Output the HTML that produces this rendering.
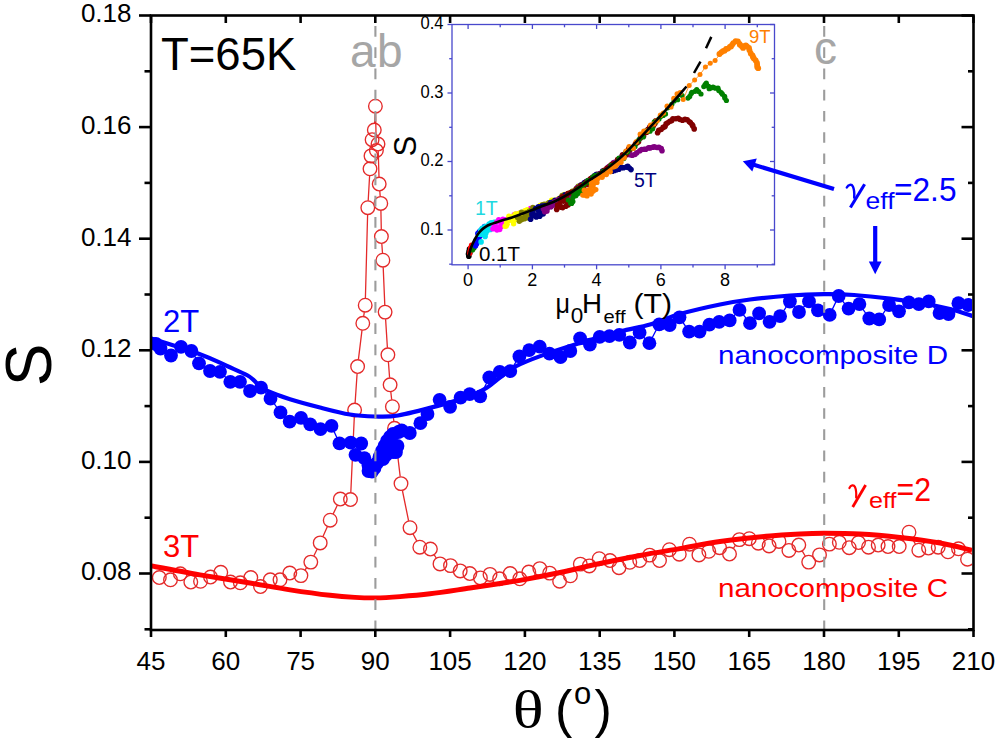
<!DOCTYPE html><html><head><meta charset="utf-8"><style>html,body{margin:0;padding:0;background:#fff;}svg{display:block;font-family:"Liberation Sans",sans-serif;}</style></head><body>
<svg width="1000" height="741" viewBox="0 0 1000 741">
<rect width="1000" height="741" fill="#fff"/>
<defs><clipPath id="plotclip"><rect x="152" y="17" width="820" height="612"/></clipPath></defs>
<g clip-path="url(#plotclip)">
<path d="M305.0,570.0L306.7,567.7M313.9,555.8L317.1,549.2M323.0,536.5L327.4,526.6M333.2,513.9L337.3,505.3M350.8,492.5L354.3,417.0M355.1,403.0L357.1,373.5M358.4,359.6L362.0,330.2M363.7,316.4L364.3,312.1M365.4,298.2L367.6,214.7M368.2,200.7L369.6,175.8M371.5,148.9L371.6,146.7M374.6,123.0L375.1,113.2M375.6,113.2L376.2,143.5M378.2,151.0L379.0,177.0M379.8,191.0L380.2,196.4M380.9,210.4L381.3,229.5M381.8,243.5L382.5,253.2M383.2,267.2L384.8,305.1M385.6,319.1L387.4,347.8M388.4,361.8L389.6,377.8M390.8,391.8L391.7,399.7M393.1,413.7L393.8,421.3M395.3,435.3L400.2,476.6M402.4,490.5L408.6,520.8M413.1,534.0L416.7,540.9M434.2,554.9L436.2,558.0M574.9,570.5L575.8,569.4M664.2,555.3L664.7,554.9M684.3,549.3L684.5,549.1M694.1,549.5L694.3,549.6M733.5,548.2L735.4,545.4M802.3,551.1L805.2,556.0M824.2,549.7L824.7,549.3M903.2,540.7L905.0,538.0M912.3,538.4L915.4,544.1" fill="none" stroke="#e42a2a" stroke-width="1.3"/>
<g fill="none" stroke="#e42a2a" stroke-width="1.35">
<circle cx="159.3" cy="577.5" r="6.8"/>
<circle cx="170.5" cy="579.8" r="6.8"/>
<circle cx="180.3" cy="573.8" r="6.8"/>
<circle cx="190.8" cy="582.0" r="6.8"/>
<circle cx="200.5" cy="581.3" r="6.8"/>
<circle cx="210.5" cy="577.0" r="6.8"/>
<circle cx="220.8" cy="572.3" r="6.8"/>
<circle cx="230.5" cy="582.0" r="6.8"/>
<circle cx="240.3" cy="582.8" r="6.8"/>
<circle cx="250.8" cy="577.5" r="6.8"/>
<circle cx="260.5" cy="586.5" r="6.8"/>
<circle cx="270.3" cy="579.8" r="6.8"/>
<circle cx="280.0" cy="579.8" r="6.8"/>
<circle cx="289.8" cy="573.0" r="6.8"/>
<circle cx="300.9" cy="575.6" r="6.8"/>
<circle cx="310.8" cy="562.1" r="6.8"/>
<circle cx="320.2" cy="542.9" r="6.8"/>
<circle cx="330.2" cy="520.2" r="6.8"/>
<circle cx="340.3" cy="499.0" r="6.8"/>
<circle cx="350.5" cy="499.5" r="6.8"/>
<circle cx="354.6" cy="410.0" r="6.8"/>
<circle cx="357.6" cy="366.5" r="6.8"/>
<circle cx="362.8" cy="323.3" r="6.8"/>
<circle cx="365.2" cy="305.2" r="6.8"/>
<circle cx="367.8" cy="207.7" r="6.8"/>
<circle cx="370.0" cy="168.8" r="6.8"/>
<circle cx="371.0" cy="155.9" r="6.8"/>
<circle cx="372.1" cy="139.7" r="6.8"/>
<circle cx="374.3" cy="130.0" r="6.8"/>
<circle cx="375.4" cy="106.2" r="6.8"/>
<circle cx="376.4" cy="150.5" r="6.8"/>
<circle cx="378.0" cy="144.0" r="6.8"/>
<circle cx="379.2" cy="184.0" r="6.8"/>
<circle cx="380.8" cy="203.4" r="6.8"/>
<circle cx="381.4" cy="236.5" r="6.8"/>
<circle cx="382.9" cy="260.2" r="6.8"/>
<circle cx="385.1" cy="312.1" r="6.8"/>
<circle cx="387.9" cy="354.8" r="6.8"/>
<circle cx="390.1" cy="384.8" r="6.8"/>
<circle cx="392.4" cy="406.7" r="6.8"/>
<circle cx="394.5" cy="428.3" r="6.8"/>
<circle cx="401.0" cy="483.6" r="6.8"/>
<circle cx="410.0" cy="527.7" r="6.8"/>
<circle cx="419.8" cy="547.2" r="6.8"/>
<circle cx="430.4" cy="549.0" r="6.8"/>
<circle cx="440.0" cy="563.9" r="6.8"/>
<circle cx="450.5" cy="565.6" r="6.8"/>
<circle cx="460.2" cy="570.9" r="6.8"/>
<circle cx="469.8" cy="573.5" r="6.8"/>
<circle cx="480.4" cy="577.9" r="6.8"/>
<circle cx="490.0" cy="574.4" r="6.8"/>
<circle cx="499.6" cy="578.8" r="6.8"/>
<circle cx="510.2" cy="573.5" r="6.8"/>
<circle cx="519.8" cy="578.8" r="6.8"/>
<circle cx="528.8" cy="572.0" r="6.8"/>
<circle cx="539.8" cy="568.6" r="6.8"/>
<circle cx="549.7" cy="573.1" r="6.8"/>
<circle cx="559.6" cy="581.2" r="6.8"/>
<circle cx="570.4" cy="575.8" r="6.8"/>
<circle cx="580.3" cy="564.1" r="6.8"/>
<circle cx="589.3" cy="565.9" r="6.8"/>
<circle cx="599.2" cy="558.7" r="6.8"/>
<circle cx="610.0" cy="560.5" r="6.8"/>
<circle cx="619.0" cy="567.7" r="6.8"/>
<circle cx="629.8" cy="562.3" r="6.8"/>
<circle cx="639.7" cy="560.5" r="6.8"/>
<circle cx="649.6" cy="555.1" r="6.8"/>
<circle cx="659.5" cy="560.5" r="6.8"/>
<circle cx="669.4" cy="549.7" r="6.8"/>
<circle cx="679.3" cy="554.2" r="6.8"/>
<circle cx="689.5" cy="544.2" r="6.8"/>
<circle cx="698.9" cy="554.9" r="6.8"/>
<circle cx="708.8" cy="551.3" r="6.8"/>
<circle cx="719.6" cy="547.7" r="6.8"/>
<circle cx="729.5" cy="554.0" r="6.8"/>
<circle cx="739.4" cy="539.6" r="6.8"/>
<circle cx="749.3" cy="538.7" r="6.8"/>
<circle cx="758.3" cy="543.2" r="6.8"/>
<circle cx="769.1" cy="545.9" r="6.8"/>
<circle cx="779.0" cy="541.4" r="6.8"/>
<circle cx="788.9" cy="550.4" r="6.8"/>
<circle cx="798.8" cy="545.0" r="6.8"/>
<circle cx="808.7" cy="562.1" r="6.8"/>
<circle cx="819.5" cy="554.9" r="6.8"/>
<circle cx="829.4" cy="544.1" r="6.8"/>
<circle cx="839.3" cy="542.3" r="6.8"/>
<circle cx="849.2" cy="547.7" r="6.8"/>
<circle cx="858.5" cy="542.5" r="6.8"/>
<circle cx="868.5" cy="547.2" r="6.8"/>
<circle cx="878.2" cy="545.0" r="6.8"/>
<circle cx="888.0" cy="546.5" r="6.8"/>
<circle cx="899.2" cy="546.5" r="6.8"/>
<circle cx="909.0" cy="532.2" r="6.8"/>
<circle cx="918.8" cy="550.2" r="6.8"/>
<circle cx="928.5" cy="548.0" r="6.8"/>
<circle cx="938.2" cy="547.2" r="6.8"/>
<circle cx="948.0" cy="551.8" r="6.8"/>
<circle cx="958.5" cy="548.8" r="6.8"/>
<circle cx="967.5" cy="559.2" r="6.8"/>
</g>
<path d="M151.5,566.0 C159.6,567.5 183.6,572.0 200.0,574.8 C216.4,577.6 235.0,580.5 250.0,583.0 C265.0,585.5 276.7,587.8 290.0,589.8 C303.3,591.8 319.2,594.0 330.0,595.3 C340.8,596.6 347.5,597.0 355.0,597.4 C362.5,597.8 367.5,598.0 375.0,597.9 C382.5,597.8 390.8,597.3 400.0,596.6 C409.2,595.9 418.3,595.2 430.0,593.8 C441.7,592.4 458.3,589.7 470.0,588.0 C481.7,586.3 491.7,584.8 500.0,583.5 C508.3,582.2 510.0,582.1 520.0,580.3 C530.0,578.5 546.7,575.3 560.0,572.5 C573.3,569.7 586.7,566.3 600.0,563.5 C613.3,560.7 626.7,558.0 640.0,555.5 C653.3,553.0 666.7,550.9 680.0,548.6 C693.3,546.3 705.0,543.6 720.0,541.5 C735.0,539.4 756.7,537.2 770.0,536.0 C783.3,534.8 791.0,534.5 800.0,534.0 C809.0,533.5 814.0,533.3 824.0,533.3 C834.0,533.3 847.3,533.3 860.0,534.0 C872.7,534.7 886.7,536.0 900.0,537.5 C913.3,539.0 928.0,540.9 940.0,543.0 C952.0,545.1 966.7,549.1 972.0,550.3" fill="none" stroke="#ff0000" stroke-width="4.9"/>
<polyline fill="none" stroke="#0000ff" stroke-width="1.3" points="156.0,344.0 160.5,348.5 171.0,355.5 181.0,346.8 191.4,351.0 199.0,363.3 210.0,371.0 220.0,371.8 230.3,381.8 240.0,381.8 250.0,391.0 261.0,387.7 270.5,398.7 280.5,412.4 289.7,421.6 301.0,417.8 310.2,424.3 320.5,429.1 331.5,425.9 339.5,443.4 350.7,442.7 361.2,443.5 355.5,454.8 364.4,458.1 368.5,465.4 368.5,471.0 372.0,471.5 374.5,468.0 377.0,463.0 379.5,457.0 382.0,451.0 384.5,446.0 387.0,441.0 390.0,437.0 393.0,434.0 396.0,452.0 397.5,446.0 386.0,455.0 391.0,447.5 393.0,452.0 383.0,459.0 389.0,443.0 398.5,432.0 401.7,430.5 409.8,433.0 420.4,423.2 427.5,414.0 439.6,399.8 450.1,406.8 460.6,397.7 469.7,394.2 480.2,396.3 489.3,377.4 499.8,371.8 510.3,371.1 519.4,356.4 529.2,350.1 539.7,346.6 549.5,353.6 560.5,357.2 570.3,351.0 580.1,338.3 589.9,344.6 599.7,336.9 609.5,336.2 619.3,334.8 629.8,342.5 639.6,332.7 649.4,343.2 659.2,324.3 669.7,325.0 679.5,317.3 689.1,331.6 699.6,331.6 709.4,324.6 719.2,321.8 729.7,320.4 739.5,309.9 750.0,323.2 759.1,313.4 769.6,321.8 780.1,316.2 789.9,301.5 799.0,312.0 809.0,301.4 818.0,310.4 829.7,314.9 838.7,296.0 848.6,308.6 859.4,304.1 869.3,318.5 879.2,319.4 889.1,305.0 899.0,311.3 908.9,302.3 918.8,304.1 928.7,301.4 939.5,313.1 948.5,314.0 958.4,303.2 968.3,305.0"/>
<g fill="#0000ff">
<circle cx="156.0" cy="344.0" r="6.9"/>
<circle cx="160.5" cy="348.5" r="6.9"/>
<circle cx="171.0" cy="355.5" r="6.9"/>
<circle cx="181.0" cy="346.8" r="6.9"/>
<circle cx="191.4" cy="351.0" r="6.9"/>
<circle cx="199.0" cy="363.3" r="6.9"/>
<circle cx="210.0" cy="371.0" r="6.9"/>
<circle cx="220.0" cy="371.8" r="6.9"/>
<circle cx="230.3" cy="381.8" r="6.9"/>
<circle cx="240.0" cy="381.8" r="6.9"/>
<circle cx="250.0" cy="391.0" r="6.9"/>
<circle cx="261.0" cy="387.7" r="6.9"/>
<circle cx="270.5" cy="398.7" r="6.9"/>
<circle cx="280.5" cy="412.4" r="6.9"/>
<circle cx="289.7" cy="421.6" r="6.9"/>
<circle cx="301.0" cy="417.8" r="6.9"/>
<circle cx="310.2" cy="424.3" r="6.9"/>
<circle cx="320.5" cy="429.1" r="6.9"/>
<circle cx="331.5" cy="425.9" r="6.9"/>
<circle cx="339.5" cy="443.4" r="6.9"/>
<circle cx="350.7" cy="442.7" r="6.9"/>
<circle cx="361.2" cy="443.5" r="6.9"/>
<circle cx="355.5" cy="454.8" r="6.9"/>
<circle cx="364.4" cy="458.1" r="6.9"/>
<circle cx="368.5" cy="465.4" r="6.9"/>
<circle cx="368.5" cy="471.0" r="6.9"/>
<circle cx="372.0" cy="471.5" r="6.9"/>
<circle cx="374.5" cy="468.0" r="6.9"/>
<circle cx="377.0" cy="463.0" r="6.9"/>
<circle cx="379.5" cy="457.0" r="6.9"/>
<circle cx="382.0" cy="451.0" r="6.9"/>
<circle cx="384.5" cy="446.0" r="6.9"/>
<circle cx="387.0" cy="441.0" r="6.9"/>
<circle cx="390.0" cy="437.0" r="6.9"/>
<circle cx="393.0" cy="434.0" r="6.9"/>
<circle cx="396.0" cy="452.0" r="6.9"/>
<circle cx="397.5" cy="446.0" r="6.9"/>
<circle cx="386.0" cy="455.0" r="6.9"/>
<circle cx="391.0" cy="447.5" r="6.9"/>
<circle cx="393.0" cy="452.0" r="6.9"/>
<circle cx="383.0" cy="459.0" r="6.9"/>
<circle cx="389.0" cy="443.0" r="6.9"/>
<circle cx="398.5" cy="432.0" r="6.9"/>
<circle cx="401.7" cy="430.5" r="6.9"/>
<circle cx="409.8" cy="433.0" r="6.9"/>
<circle cx="420.4" cy="423.2" r="6.9"/>
<circle cx="427.5" cy="414.0" r="6.9"/>
<circle cx="439.6" cy="399.8" r="6.9"/>
<circle cx="450.1" cy="406.8" r="6.9"/>
<circle cx="460.6" cy="397.7" r="6.9"/>
<circle cx="469.7" cy="394.2" r="6.9"/>
<circle cx="480.2" cy="396.3" r="6.9"/>
<circle cx="489.3" cy="377.4" r="6.9"/>
<circle cx="499.8" cy="371.8" r="6.9"/>
<circle cx="510.3" cy="371.1" r="6.9"/>
<circle cx="519.4" cy="356.4" r="6.9"/>
<circle cx="529.2" cy="350.1" r="6.9"/>
<circle cx="539.7" cy="346.6" r="6.9"/>
<circle cx="549.5" cy="353.6" r="6.9"/>
<circle cx="560.5" cy="357.2" r="6.9"/>
<circle cx="570.3" cy="351.0" r="6.9"/>
<circle cx="580.1" cy="338.3" r="6.9"/>
<circle cx="589.9" cy="344.6" r="6.9"/>
<circle cx="599.7" cy="336.9" r="6.9"/>
<circle cx="609.5" cy="336.2" r="6.9"/>
<circle cx="619.3" cy="334.8" r="6.9"/>
<circle cx="629.8" cy="342.5" r="6.9"/>
<circle cx="639.6" cy="332.7" r="6.9"/>
<circle cx="649.4" cy="343.2" r="6.9"/>
<circle cx="659.2" cy="324.3" r="6.9"/>
<circle cx="669.7" cy="325.0" r="6.9"/>
<circle cx="679.5" cy="317.3" r="6.9"/>
<circle cx="689.1" cy="331.6" r="6.9"/>
<circle cx="699.6" cy="331.6" r="6.9"/>
<circle cx="709.4" cy="324.6" r="6.9"/>
<circle cx="719.2" cy="321.8" r="6.9"/>
<circle cx="729.7" cy="320.4" r="6.9"/>
<circle cx="739.5" cy="309.9" r="6.9"/>
<circle cx="750.0" cy="323.2" r="6.9"/>
<circle cx="759.1" cy="313.4" r="6.9"/>
<circle cx="769.6" cy="321.8" r="6.9"/>
<circle cx="780.1" cy="316.2" r="6.9"/>
<circle cx="789.9" cy="301.5" r="6.9"/>
<circle cx="799.0" cy="312.0" r="6.9"/>
<circle cx="809.0" cy="301.4" r="6.9"/>
<circle cx="818.0" cy="310.4" r="6.9"/>
<circle cx="829.7" cy="314.9" r="6.9"/>
<circle cx="838.7" cy="296.0" r="6.9"/>
<circle cx="848.6" cy="308.6" r="6.9"/>
<circle cx="859.4" cy="304.1" r="6.9"/>
<circle cx="869.3" cy="318.5" r="6.9"/>
<circle cx="879.2" cy="319.4" r="6.9"/>
<circle cx="889.1" cy="305.0" r="6.9"/>
<circle cx="899.0" cy="311.3" r="6.9"/>
<circle cx="908.9" cy="302.3" r="6.9"/>
<circle cx="918.8" cy="304.1" r="6.9"/>
<circle cx="928.7" cy="301.4" r="6.9"/>
<circle cx="939.5" cy="313.1" r="6.9"/>
<circle cx="948.5" cy="314.0" r="6.9"/>
<circle cx="958.4" cy="303.2" r="6.9"/>
<circle cx="968.3" cy="305.0" r="6.9"/>
</g>
<path d="M151.5,338.5 C159.6,341.1 187.4,349.6 200.0,354.2 C212.6,358.8 219.2,362.5 227.0,366.0 C234.8,369.5 242.3,372.6 246.8,375.0 C251.3,377.4 252.1,378.7 254.0,380.3 C255.9,381.9 256.2,383.0 258.5,384.8 C260.8,386.6 262.2,388.6 267.5,391.0 C272.8,393.4 281.2,396.4 290.0,399.2 C298.8,401.9 310.0,404.9 320.0,407.5 C330.0,410.1 340.8,413.0 350.0,414.5 C359.2,416.0 367.0,416.3 375.0,416.5 C383.0,416.7 387.5,417.3 398.0,415.5 C408.5,413.7 425.8,409.1 437.8,405.9 C449.8,402.6 461.9,399.0 470.0,396.0 C478.1,393.0 481.4,391.1 486.4,388.0 C491.4,384.9 495.1,381.1 500.0,377.5 C504.9,373.9 508.7,370.0 515.6,366.4 C522.5,362.8 530.9,359.5 541.6,355.6 C552.3,351.7 566.9,347.0 580.0,343.0 C593.1,339.0 608.3,334.7 620.0,331.6 C631.7,328.5 640.0,327.4 650.0,324.5 C660.0,321.6 668.3,317.3 680.0,314.0 C691.7,310.7 708.3,306.9 720.0,304.5 C731.7,302.1 738.3,301.0 750.0,299.5 C761.7,298.0 777.7,296.4 790.0,295.5 C802.3,294.6 813.3,294.3 824.0,294.2 C834.7,294.1 843.0,294.2 854.0,295.0 C865.0,295.8 878.0,297.2 890.0,298.7 C902.0,300.2 916.0,302.3 926.0,304.0 C936.0,305.7 942.2,307.0 950.0,309.0 C957.8,311.0 969.0,314.8 972.8,316.0" fill="none" stroke="#0000ff" stroke-width="4.2"/>
</g>
<line x1="375.4" y1="15.5" x2="375.4" y2="630" stroke="#9c9c9c" stroke-width="2.1" stroke-dasharray="10.7 10.53" stroke-dashoffset="10.73"/>
<line x1="824.2" y1="15.5" x2="824.2" y2="630" stroke="#9c9c9c" stroke-width="2.1" stroke-dasharray="10.7 10.53" stroke-dashoffset="10.73"/>
<g stroke="#000" stroke-width="2.6" fill="none">
<rect x="151" y="15.5" width="822.5" height="614.5"/>
<line x1="144.5" y1="629.3" x2="151" y2="629.3"/>
<line x1="973.5" y1="629.3" x2="968.0" y2="629.3"/>
<line x1="139.0" y1="573.5" x2="151" y2="573.5"/>
<line x1="973.5" y1="573.5" x2="961.5" y2="573.5"/>
<line x1="144.5" y1="517.7" x2="151" y2="517.7"/>
<line x1="973.5" y1="517.7" x2="968.0" y2="517.7"/>
<line x1="139.0" y1="461.9" x2="151" y2="461.9"/>
<line x1="973.5" y1="461.9" x2="961.5" y2="461.9"/>
<line x1="144.5" y1="406.1" x2="151" y2="406.1"/>
<line x1="973.5" y1="406.1" x2="968.0" y2="406.1"/>
<line x1="139.0" y1="350.3" x2="151" y2="350.3"/>
<line x1="973.5" y1="350.3" x2="961.5" y2="350.3"/>
<line x1="144.5" y1="294.5" x2="151" y2="294.5"/>
<line x1="973.5" y1="294.5" x2="968.0" y2="294.5"/>
<line x1="139.0" y1="238.7" x2="151" y2="238.7"/>
<line x1="973.5" y1="238.7" x2="961.5" y2="238.7"/>
<line x1="144.5" y1="182.9" x2="151" y2="182.9"/>
<line x1="973.5" y1="182.9" x2="968.0" y2="182.9"/>
<line x1="139.0" y1="127.1" x2="151" y2="127.1"/>
<line x1="973.5" y1="127.1" x2="961.5" y2="127.1"/>
<line x1="144.5" y1="71.3" x2="151" y2="71.3"/>
<line x1="973.5" y1="71.3" x2="968.0" y2="71.3"/>
<line x1="139.0" y1="15.5" x2="151" y2="15.5"/>
<line x1="973.5" y1="15.5" x2="961.5" y2="15.5"/>
<line x1="151.0" y1="630" x2="151.0" y2="637"/>
<line x1="151.0" y1="15.5" x2="151.0" y2="23"/>
<line x1="225.8" y1="630" x2="225.8" y2="637"/>
<line x1="225.8" y1="15.5" x2="225.8" y2="23"/>
<line x1="300.6" y1="630" x2="300.6" y2="637"/>
<line x1="300.6" y1="15.5" x2="300.6" y2="23"/>
<line x1="375.3" y1="630" x2="375.3" y2="637"/>
<line x1="375.3" y1="15.5" x2="375.3" y2="23"/>
<line x1="450.1" y1="630" x2="450.1" y2="637"/>
<line x1="450.1" y1="15.5" x2="450.1" y2="23"/>
<line x1="524.9" y1="630" x2="524.9" y2="637"/>
<line x1="524.9" y1="15.5" x2="524.9" y2="23"/>
<line x1="599.7" y1="630" x2="599.7" y2="637"/>
<line x1="599.7" y1="15.5" x2="599.7" y2="23"/>
<line x1="674.4" y1="630" x2="674.4" y2="637"/>
<line x1="674.4" y1="15.5" x2="674.4" y2="23"/>
<line x1="749.2" y1="630" x2="749.2" y2="637"/>
<line x1="749.2" y1="15.5" x2="749.2" y2="23"/>
<line x1="824.0" y1="630" x2="824.0" y2="637"/>
<line x1="824.0" y1="15.5" x2="824.0" y2="23"/>
<line x1="898.8" y1="630" x2="898.8" y2="637"/>
<line x1="898.8" y1="15.5" x2="898.8" y2="23"/>
<line x1="973.5" y1="630" x2="973.5" y2="637"/>
<line x1="973.5" y1="15.5" x2="973.5" y2="23"/>
</g>
<g font-size="26" fill="#000" text-anchor="end">
<text x="131.5" y="580.4">0.08</text>
<text x="131.5" y="468.8">0.10</text>
<text x="131.5" y="357.2">0.12</text>
<text x="131.5" y="245.6">0.14</text>
<text x="131.5" y="134.0">0.16</text>
<text x="131.5" y="22.4">0.18</text>
</g>
<g font-size="26" fill="#000" text-anchor="middle">
<text x="151.0" y="670">45</text>
<text x="225.8" y="670">60</text>
<text x="300.6" y="670">75</text>
<text x="375.3" y="670">90</text>
<text x="450.1" y="670">105</text>
<text x="524.9" y="670">120</text>
<text x="599.7" y="670">135</text>
<text x="674.4" y="670">150</text>
<text x="749.2" y="670">165</text>
<text x="824.0" y="670">180</text>
<text x="898.8" y="670">195</text>
<text x="973.5" y="670">210</text>
</g>
<text x="0" y="0" font-size="64" transform="translate(51.3,364.8) rotate(-90)" text-anchor="middle" fill="#000">S</text>
<text x="0" y="0" transform="translate(512.8,727) scale(1.24,1)" font-size="52" fill="#000" font-family="Liberation Serif">θ</text>
<text x="555" y="727" font-size="52" fill="#000">(</text>
<text x="574" y="704.4" font-size="31" fill="#000">o</text>
<text x="594.5" y="727" font-size="52" fill="#000">)</text>
<text x="161" y="70" font-size="45.5" fill="#000">T=65K</text>
<text x="350" y="66.5" font-size="46" fill="#a6a6a6" letter-spacing="1.5">ab</text>
<text x="814" y="63.5" font-size="46" fill="#a6a6a6">c</text>
<text x="163" y="332" font-size="31" fill="#0000ff">2T</text>
<text x="163" y="557" font-size="31" fill="#ff0000">3T</text>
<text x="718" y="364" font-size="26.5" fill="#0000ff" textLength="230" lengthAdjust="spacingAndGlyphs">nanocomposite D</text>
<text x="718" y="596.5" font-size="26.5" fill="#ff0000" textLength="230" lengthAdjust="spacingAndGlyphs">nanocomposite C</text>
<g transform="translate(846.0,182.5) scale(1.000,1.000)" fill="none" stroke="#0000ff"><path d="M0.8,5 C2.3,2 5.5,1.2 6.9,4 C8.1,6.5 8.5,10.5 8.2,15.2" stroke-width="2.4" stroke-linecap="round"/><path d="M18.6,1.8 L4.4,25" stroke-width="3.1"/></g>
<text x="865.5" y="208.5" font-size="24.0" fill="#0000ff" textLength="29.0" lengthAdjust="spacingAndGlyphs">eff</text>
<text x="894.0" y="200.8" font-size="32.5" fill="#0000ff" textLength="62.5" lengthAdjust="spacingAndGlyphs">=2.5</text>
<g transform="translate(848.7,483.2) scale(0.910,0.950)" fill="none" stroke="#ff0000"><path d="M0.8,5 C2.3,2 5.5,1.2 6.9,4 C8.1,6.5 8.5,10.5 8.2,15.2" stroke-width="2.4" stroke-linecap="round"/><path d="M18.6,1.8 L4.4,25" stroke-width="3.1"/></g>
<text x="869.0" y="507.5" font-size="22.0" fill="#ff0000" textLength="27.5" lengthAdjust="spacingAndGlyphs">eff</text>
<text x="896.5" y="500.7" font-size="32.5" fill="#ff0000" textLength="34.5" lengthAdjust="spacingAndGlyphs">=2</text>
<rect x="452" y="24.5" width="322.5" height="240.3" fill="#fff" stroke="#4848cc" stroke-width="1.3"/>
<g stroke="#4848cc" stroke-width="1.3">
<line x1="468.1" y1="264.8" x2="468.1" y2="269.3"/>
<line x1="468.1" y1="24.5" x2="468.1" y2="29.0"/>
<line x1="500.2" y1="264.8" x2="500.2" y2="267.6"/>
<line x1="500.2" y1="24.5" x2="500.2" y2="27.3"/>
<line x1="532.4" y1="264.8" x2="532.4" y2="269.3"/>
<line x1="532.4" y1="24.5" x2="532.4" y2="29.0"/>
<line x1="564.5" y1="264.8" x2="564.5" y2="267.6"/>
<line x1="564.5" y1="24.5" x2="564.5" y2="27.3"/>
<line x1="596.6" y1="264.8" x2="596.6" y2="269.3"/>
<line x1="596.6" y1="24.5" x2="596.6" y2="29.0"/>
<line x1="628.8" y1="264.8" x2="628.8" y2="267.6"/>
<line x1="628.8" y1="24.5" x2="628.8" y2="27.3"/>
<line x1="660.9" y1="264.8" x2="660.9" y2="269.3"/>
<line x1="660.9" y1="24.5" x2="660.9" y2="29.0"/>
<line x1="693.0" y1="264.8" x2="693.0" y2="267.6"/>
<line x1="693.0" y1="24.5" x2="693.0" y2="27.3"/>
<line x1="725.1" y1="264.8" x2="725.1" y2="269.3"/>
<line x1="725.1" y1="24.5" x2="725.1" y2="29.0"/>
<line x1="757.3" y1="264.8" x2="757.3" y2="267.6"/>
<line x1="757.3" y1="24.5" x2="757.3" y2="27.3"/>
<line x1="449.2" y1="264.2" x2="452" y2="264.2"/>
<line x1="774.5" y1="264.2" x2="771.7" y2="264.2"/>
<line x1="447.5" y1="230.0" x2="452" y2="230.0"/>
<line x1="774.5" y1="230.0" x2="770.0" y2="230.0"/>
<line x1="449.2" y1="195.8" x2="452" y2="195.8"/>
<line x1="774.5" y1="195.8" x2="771.7" y2="195.8"/>
<line x1="447.5" y1="161.5" x2="452" y2="161.5"/>
<line x1="774.5" y1="161.5" x2="770.0" y2="161.5"/>
<line x1="449.2" y1="127.3" x2="452" y2="127.3"/>
<line x1="774.5" y1="127.3" x2="771.7" y2="127.3"/>
<line x1="447.5" y1="93.0" x2="452" y2="93.0"/>
<line x1="774.5" y1="93.0" x2="770.0" y2="93.0"/>
<line x1="449.2" y1="58.7" x2="452" y2="58.7"/>
<line x1="774.5" y1="58.7" x2="771.7" y2="58.7"/>
<line x1="447.5" y1="24.5" x2="452" y2="24.5"/>
<line x1="774.5" y1="24.5" x2="770.0" y2="24.5"/>
</g>
<g font-size="18" fill="#000" text-anchor="end">
<text x="443.5" y="234.6" textLength="23" lengthAdjust="spacingAndGlyphs">0.1</text>
<text x="443.5" y="166.1" textLength="23" lengthAdjust="spacingAndGlyphs">0.2</text>
<text x="443.5" y="97.6" textLength="23" lengthAdjust="spacingAndGlyphs">0.3</text>
<text x="443.5" y="29.1" textLength="23" lengthAdjust="spacingAndGlyphs">0.4</text>
</g>
<g font-size="18" fill="#000" text-anchor="middle">
<text x="467.9" y="285.6">0</text>
<text x="532.2" y="285.6">2</text>
<text x="596.4" y="285.6">4</text>
<text x="660.7" y="285.6">6</text>
<text x="724.9" y="285.6">8</text>
</g>
<text x="0" y="0" font-size="31" transform="translate(415.5,146.2) rotate(-90)" text-anchor="middle" fill="#000">S</text>
<text x="555.5" y="313" font-size="27" fill="#000" textLength="14.5" lengthAdjust="spacingAndGlyphs">μ</text>
<text x="570.8" y="323.4" font-size="22.5" fill="#000">0</text>
<text x="582" y="313" font-size="27" fill="#000" textLength="20" lengthAdjust="spacingAndGlyphs">H</text>
<text x="603.5" y="323.4" font-size="18.5" fill="#000" textLength="22" lengthAdjust="spacingAndGlyphs">eff</text>
<text x="633.5" y="313" font-size="27" fill="#000" textLength="38.5" lengthAdjust="spacingAndGlyphs">(T)</text>
<g fill="#000000"><circle cx="468.5" cy="254.0" r="2.8"/><circle cx="469.0" cy="251.5" r="2.8"/><circle cx="469.5" cy="249.0" r="2.8"/><circle cx="468.8" cy="256.2" r="2.8"/><circle cx="469.8" cy="253.0" r="2.8"/></g>
<g fill="#ff0000"><circle cx="470.0" cy="251.0" r="2.6"/><circle cx="470.5" cy="247.5" r="2.6"/><circle cx="471.5" cy="245.0" r="2.6"/><circle cx="469.8" cy="253.5" r="2.6"/><circle cx="471.0" cy="249.0" r="2.6"/></g>
<g fill="#008000"><circle cx="472.5" cy="250.0" r="2.6"/><circle cx="473.5" cy="246.0" r="2.6"/><circle cx="475.0" cy="243.0" r="2.6"/><circle cx="476.0" cy="240.0" r="2.6"/><circle cx="474.0" cy="248.0" r="2.6"/></g>
<g fill="#0000ff"><circle cx="475.5" cy="246.0" r="2.7"/><circle cx="477.0" cy="242.5" r="2.7"/><circle cx="478.5" cy="239.0" r="2.7"/><circle cx="480.0" cy="236.0" r="2.7"/><circle cx="481.5" cy="233.0" r="2.7"/><circle cx="483.5" cy="231.0" r="2.7"/><circle cx="476.5" cy="244.0" r="2.7"/><circle cx="479.0" cy="240.0" r="2.7"/><circle cx="477.8" cy="233.4" r="2.7"/><circle cx="479.3" cy="231.8" r="2.7"/><circle cx="480.5" cy="230.9" r="2.7"/><circle cx="481.4" cy="229.8" r="2.7"/><circle cx="482.9" cy="228.4" r="2.7"/><circle cx="484.5" cy="226.4" r="2.7"/><circle cx="486.4" cy="226.9" r="2.7"/></g>
<g fill="#00e0f0"><circle cx="479.4" cy="234.2" r="2.8"/><circle cx="481.1" cy="241.9" r="2.8"/><circle cx="481.9" cy="234.3" r="2.8"/><circle cx="483.5" cy="229.4" r="2.8"/><circle cx="484.2" cy="231.6" r="2.8"/><circle cx="484.0" cy="228.8" r="2.8"/><circle cx="485.1" cy="236.4" r="2.8"/><circle cx="485.9" cy="233.1" r="2.8"/><circle cx="487.5" cy="230.2" r="2.8"/><circle cx="488.3" cy="226.0" r="2.8"/><circle cx="488.4" cy="227.2" r="2.8"/><circle cx="490.3" cy="229.4" r="2.8"/><circle cx="480.8" cy="230.3" r="2.8"/><circle cx="482.3" cy="228.4" r="2.8"/><circle cx="484.2" cy="228.1" r="2.8"/><circle cx="485.2" cy="226.5" r="2.8"/><circle cx="487.2" cy="226.3" r="2.8"/><circle cx="489.2" cy="224.0" r="2.8"/><circle cx="491.2" cy="222.8" r="2.8"/><circle cx="492.6" cy="223.7" r="2.8"/><circle cx="494.2" cy="222.4" r="2.8"/><circle cx="496.0" cy="222.2" r="2.8"/></g>
<g fill="#ff00ff"><circle cx="492.9" cy="228.9" r="2.7"/><circle cx="494.1" cy="226.7" r="2.7"/><circle cx="494.8" cy="228.3" r="2.7"/><circle cx="495.6" cy="227.0" r="2.7"/><circle cx="497.0" cy="230.1" r="2.7"/><circle cx="497.5" cy="227.8" r="2.7"/><circle cx="497.8" cy="227.7" r="2.7"/><circle cx="499.7" cy="229.5" r="2.7"/><circle cx="501.0" cy="224.2" r="2.7"/><circle cx="501.3" cy="226.5" r="2.7"/><circle cx="501.7" cy="224.8" r="2.7"/><circle cx="503.0" cy="222.0" r="2.7"/><circle cx="496.6" cy="222.1" r="2.7"/><circle cx="498.7" cy="219.8" r="2.7"/><circle cx="501.1" cy="221.1" r="2.7"/><circle cx="502.9" cy="219.1" r="2.7"/><circle cx="505.4" cy="219.8" r="2.7"/><circle cx="507.8" cy="219.1" r="2.7"/><circle cx="509.4" cy="217.1" r="2.7"/><circle cx="511.5" cy="217.9" r="2.7"/><circle cx="514.2" cy="214.8" r="2.7"/><circle cx="515.5" cy="214.3" r="2.7"/><circle cx="517.7" cy="214.4" r="2.7"/><circle cx="520.1" cy="212.9" r="2.7"/><circle cx="521.6" cy="212.7" r="2.7"/><circle cx="524.0" cy="212.4" r="2.7"/><circle cx="526.6" cy="212.1" r="2.7"/><circle cx="528.3" cy="211.1" r="2.7"/><circle cx="530.5" cy="208.5" r="2.7"/></g>
<g fill="#ffff00"><circle cx="505.1" cy="226.3" r="2.7"/><circle cx="506.2" cy="226.1" r="2.7"/><circle cx="506.5" cy="222.9" r="2.7"/><circle cx="507.1" cy="224.3" r="2.7"/><circle cx="508.2" cy="220.0" r="2.7"/><circle cx="509.5" cy="220.3" r="2.7"/><circle cx="510.8" cy="219.2" r="2.7"/><circle cx="511.3" cy="219.6" r="2.7"/><circle cx="512.6" cy="220.7" r="2.7"/><circle cx="513.6" cy="223.8" r="2.7"/><circle cx="515.6" cy="218.4" r="2.7"/><circle cx="516.1" cy="219.4" r="2.7"/><circle cx="508.9" cy="216.3" r="2.7"/><circle cx="511.6" cy="218.4" r="2.7"/><circle cx="513.6" cy="216.0" r="2.7"/><circle cx="515.4" cy="213.9" r="2.7"/><circle cx="518.0" cy="213.6" r="2.7"/><circle cx="520.7" cy="212.5" r="2.7"/><circle cx="522.1" cy="214.2" r="2.7"/><circle cx="524.9" cy="210.8" r="2.7"/><circle cx="527.2" cy="209.6" r="2.7"/><circle cx="529.4" cy="211.8" r="2.7"/><circle cx="532.0" cy="210.0" r="2.7"/><circle cx="533.6" cy="208.1" r="2.7"/><circle cx="535.8" cy="208.6" r="2.7"/><circle cx="538.4" cy="207.7" r="2.7"/><circle cx="540.4" cy="205.1" r="2.7"/><circle cx="543.1" cy="206.7" r="2.7"/><circle cx="545.4" cy="205.2" r="2.7"/><circle cx="547.6" cy="204.1" r="2.7"/><circle cx="549.3" cy="202.6" r="2.7"/><circle cx="551.6" cy="200.1" r="2.7"/><circle cx="553.6" cy="200.1" r="2.7"/><circle cx="556.0" cy="200.5" r="2.7"/><circle cx="558.8" cy="198.5" r="2.7"/><circle cx="560.9" cy="199.1" r="2.7"/><circle cx="563.0" cy="196.0" r="2.7"/><circle cx="564.4" cy="194.4" r="2.7"/></g>
<g fill="#808000"><circle cx="517.5" cy="217.4" r="2.7"/><circle cx="519.3" cy="221.2" r="2.7"/><circle cx="520.7" cy="218.3" r="2.7"/><circle cx="521.5" cy="219.8" r="2.7"/><circle cx="521.7" cy="218.6" r="2.7"/><circle cx="524.1" cy="218.9" r="2.7"/><circle cx="524.9" cy="216.7" r="2.7"/><circle cx="525.1" cy="218.1" r="2.7"/><circle cx="526.5" cy="217.8" r="2.7"/><circle cx="528.6" cy="215.0" r="2.7"/><circle cx="528.8" cy="217.9" r="2.7"/><circle cx="530.4" cy="212.8" r="2.7"/><circle cx="521.6" cy="212.2" r="2.7"/><circle cx="524.7" cy="213.4" r="2.7"/><circle cx="526.2" cy="212.7" r="2.7"/><circle cx="529.2" cy="211.3" r="2.7"/><circle cx="530.9" cy="210.1" r="2.7"/><circle cx="532.9" cy="207.5" r="2.7"/><circle cx="536.0" cy="208.7" r="2.7"/><circle cx="537.8" cy="208.8" r="2.7"/><circle cx="539.9" cy="207.7" r="2.7"/><circle cx="542.5" cy="204.7" r="2.7"/><circle cx="544.2" cy="204.1" r="2.7"/><circle cx="546.4" cy="204.2" r="2.7"/><circle cx="548.7" cy="202.8" r="2.7"/><circle cx="550.8" cy="203.5" r="2.7"/><circle cx="553.3" cy="201.2" r="2.7"/><circle cx="555.7" cy="201.7" r="2.7"/><circle cx="557.8" cy="200.6" r="2.7"/><circle cx="560.0" cy="198.3" r="2.7"/><circle cx="562.1" cy="195.5" r="2.7"/><circle cx="564.1" cy="194.9" r="2.7"/><circle cx="565.8" cy="195.7" r="2.7"/><circle cx="568.1" cy="193.5" r="2.7"/><circle cx="570.7" cy="192.5" r="2.7"/><circle cx="572.3" cy="191.1" r="2.7"/><circle cx="574.5" cy="190.6" r="2.7"/><circle cx="576.1" cy="188.6" r="2.7"/><circle cx="578.2" cy="186.3" r="2.7"/><circle cx="580.7" cy="185.7" r="2.7"/><circle cx="582.5" cy="185.2" r="2.7"/><circle cx="584.9" cy="182.9" r="2.7"/><circle cx="586.6" cy="181.7" r="2.7"/><circle cx="588.5" cy="181.0" r="2.7"/><circle cx="590.4" cy="179.1" r="2.7"/><circle cx="592.4" cy="179.1" r="2.7"/><circle cx="594.7" cy="177.6" r="2.7"/><circle cx="596.9" cy="174.3" r="2.7"/></g>
<g fill="#000080"><circle cx="530.6" cy="219.3" r="2.8"/><circle cx="532.1" cy="213.2" r="2.8"/><circle cx="532.0" cy="215.0" r="2.8"/><circle cx="533.0" cy="213.1" r="2.8"/><circle cx="534.1" cy="215.7" r="2.8"/><circle cx="536.3" cy="216.9" r="2.8"/><circle cx="536.4" cy="215.2" r="2.8"/><circle cx="538.3" cy="210.8" r="2.8"/><circle cx="539.7" cy="216.2" r="2.8"/><circle cx="539.7" cy="215.6" r="2.8"/><circle cx="541.1" cy="212.0" r="2.8"/><circle cx="543.1" cy="214.0" r="2.8"/><circle cx="542.9" cy="210.7" r="2.8"/><circle cx="544.5" cy="209.7" r="2.8"/><circle cx="535.7" cy="208.5" r="2.8"/><circle cx="538.4" cy="206.7" r="2.8"/><circle cx="540.3" cy="207.2" r="2.8"/><circle cx="542.0" cy="206.0" r="2.8"/><circle cx="544.7" cy="205.8" r="2.8"/><circle cx="546.3" cy="206.4" r="2.8"/><circle cx="549.2" cy="205.6" r="2.8"/><circle cx="550.6" cy="202.5" r="2.8"/><circle cx="552.7" cy="203.3" r="2.8"/><circle cx="555.1" cy="200.4" r="2.8"/><circle cx="557.4" cy="201.8" r="2.8"/><circle cx="559.8" cy="198.6" r="2.8"/><circle cx="561.1" cy="199.7" r="2.8"/><circle cx="563.6" cy="197.9" r="2.8"/><circle cx="565.1" cy="194.7" r="2.8"/><circle cx="567.7" cy="194.8" r="2.8"/><circle cx="569.2" cy="195.3" r="2.8"/><circle cx="571.7" cy="193.6" r="2.8"/><circle cx="573.1" cy="192.5" r="2.8"/><circle cx="575.0" cy="191.2" r="2.8"/><circle cx="577.3" cy="188.3" r="2.8"/><circle cx="579.3" cy="188.9" r="2.8"/><circle cx="580.9" cy="185.1" r="2.8"/><circle cx="583.1" cy="184.1" r="2.8"/><circle cx="584.6" cy="182.6" r="2.8"/><circle cx="586.4" cy="181.5" r="2.8"/><circle cx="588.6" cy="180.5" r="2.8"/><circle cx="591.0" cy="179.2" r="2.8"/><circle cx="592.6" cy="177.6" r="2.8"/><circle cx="594.4" cy="175.8" r="2.8"/><circle cx="596.2" cy="174.6" r="2.8"/><circle cx="598.6" cy="175.0" r="2.8"/><circle cx="600.0" cy="173.5" r="2.8"/><circle cx="602.7" cy="171.1" r="2.8"/><circle cx="604.5" cy="170.8" r="2.8"/><circle cx="606.0" cy="170.7" r="2.8"/><circle cx="607.7" cy="168.2" r="2.8"/><circle cx="609.8" cy="168.3" r="2.8"/><circle cx="611.3" cy="166.4" r="2.8"/><circle cx="612.2" cy="171.2" r="2.8"/><circle cx="614.4" cy="170.4" r="2.8"/><circle cx="616.5" cy="169.8" r="2.8"/><circle cx="618.9" cy="169.3" r="2.8"/><circle cx="621.6" cy="167.4" r="2.8"/><circle cx="623.4" cy="167.8" r="2.8"/><circle cx="626.4" cy="167.1" r="2.8"/><circle cx="627.7" cy="166.2" r="2.8"/><circle cx="629.3" cy="168.0" r="2.8"/><circle cx="631.0" cy="169.6" r="2.8"/></g>
<g fill="#800080"><circle cx="543.5" cy="209.0" r="2.8"/><circle cx="544.7" cy="211.7" r="2.8"/><circle cx="546.9" cy="208.8" r="2.8"/><circle cx="546.9" cy="210.9" r="2.8"/><circle cx="548.1" cy="206.8" r="2.8"/><circle cx="548.7" cy="206.5" r="2.8"/><circle cx="550.5" cy="206.8" r="2.8"/><circle cx="551.2" cy="206.4" r="2.8"/><circle cx="551.9" cy="204.5" r="2.8"/><circle cx="553.2" cy="204.9" r="2.8"/><circle cx="554.2" cy="202.2" r="2.8"/><circle cx="555.7" cy="203.1" r="2.8"/><circle cx="549.1" cy="204.6" r="2.8"/><circle cx="551.4" cy="204.2" r="2.8"/><circle cx="553.5" cy="204.1" r="2.8"/><circle cx="555.3" cy="201.5" r="2.8"/><circle cx="558.1" cy="199.8" r="2.8"/><circle cx="559.8" cy="200.3" r="2.8"/><circle cx="561.2" cy="199.8" r="2.8"/><circle cx="564.0" cy="198.1" r="2.8"/><circle cx="565.9" cy="197.6" r="2.8"/><circle cx="567.3" cy="195.5" r="2.8"/><circle cx="569.7" cy="195.4" r="2.8"/><circle cx="572.0" cy="194.1" r="2.8"/><circle cx="573.7" cy="193.1" r="2.8"/><circle cx="575.7" cy="191.1" r="2.8"/><circle cx="577.2" cy="187.7" r="2.8"/><circle cx="579.0" cy="187.5" r="2.8"/><circle cx="580.8" cy="187.8" r="2.8"/><circle cx="583.2" cy="185.8" r="2.8"/><circle cx="585.2" cy="184.7" r="2.8"/><circle cx="587.0" cy="181.3" r="2.8"/><circle cx="589.2" cy="182.4" r="2.8"/><circle cx="590.8" cy="180.4" r="2.8"/><circle cx="592.9" cy="177.7" r="2.8"/><circle cx="594.9" cy="177.0" r="2.8"/><circle cx="596.2" cy="175.8" r="2.8"/><circle cx="598.7" cy="174.3" r="2.8"/><circle cx="600.7" cy="175.5" r="2.8"/><circle cx="602.4" cy="172.4" r="2.8"/><circle cx="604.3" cy="172.0" r="2.8"/><circle cx="606.4" cy="170.4" r="2.8"/><circle cx="608.1" cy="167.2" r="2.8"/><circle cx="609.4" cy="166.4" r="2.8"/><circle cx="611.8" cy="165.1" r="2.8"/><circle cx="613.4" cy="162.8" r="2.8"/><circle cx="614.7" cy="162.2" r="2.8"/><circle cx="617.1" cy="162.1" r="2.8"/><circle cx="618.9" cy="159.4" r="2.8"/><circle cx="620.6" cy="158.4" r="2.8"/><circle cx="622.2" cy="155.7" r="2.8"/><circle cx="624.2" cy="154.3" r="2.8"/><circle cx="625.9" cy="155.1" r="2.8"/><circle cx="626.6" cy="151.9" r="2.8"/><circle cx="629.1" cy="151.9" r="2.8"/><circle cx="629.9" cy="154.7" r="2.8"/><circle cx="632.3" cy="155.2" r="2.8"/><circle cx="634.9" cy="154.5" r="2.8"/><circle cx="636.8" cy="152.8" r="2.8"/><circle cx="639.8" cy="150.7" r="2.8"/><circle cx="641.7" cy="149.5" r="2.8"/><circle cx="644.2" cy="149.3" r="2.8"/><circle cx="645.8" cy="149.2" r="2.8"/><circle cx="648.6" cy="147.7" r="2.8"/><circle cx="650.0" cy="147.9" r="2.8"/><circle cx="652.6" cy="147.3" r="2.8"/><circle cx="654.3" cy="146.9" r="2.8"/><circle cx="656.9" cy="147.5" r="2.8"/><circle cx="658.9" cy="147.4" r="2.8"/><circle cx="661.2" cy="148.5" r="2.8"/><circle cx="662.0" cy="150.8" r="2.8"/></g>
<g fill="#800000"><circle cx="556.7" cy="209.4" r="2.8"/><circle cx="557.6" cy="205.1" r="2.8"/><circle cx="557.8" cy="205.5" r="2.8"/><circle cx="559.8" cy="206.7" r="2.8"/><circle cx="559.8" cy="204.7" r="2.8"/><circle cx="560.6" cy="200.7" r="2.8"/><circle cx="561.4" cy="207.3" r="2.8"/><circle cx="562.7" cy="207.6" r="2.8"/><circle cx="563.6" cy="201.1" r="2.8"/><circle cx="565.0" cy="199.9" r="2.8"/><circle cx="565.8" cy="206.2" r="2.8"/><circle cx="567.6" cy="204.4" r="2.8"/><circle cx="568.2" cy="204.7" r="2.8"/><circle cx="569.7" cy="200.9" r="2.8"/><circle cx="562.2" cy="196.9" r="2.8"/><circle cx="564.3" cy="197.3" r="2.8"/><circle cx="566.3" cy="196.9" r="2.8"/><circle cx="567.9" cy="193.6" r="2.8"/><circle cx="570.5" cy="192.8" r="2.8"/><circle cx="572.0" cy="192.3" r="2.8"/><circle cx="573.7" cy="192.4" r="2.8"/><circle cx="576.3" cy="189.4" r="2.8"/><circle cx="577.9" cy="188.3" r="2.8"/><circle cx="579.7" cy="187.4" r="2.8"/><circle cx="581.2" cy="185.3" r="2.8"/><circle cx="583.2" cy="186.7" r="2.8"/><circle cx="585.4" cy="182.9" r="2.8"/><circle cx="587.7" cy="184.4" r="2.8"/><circle cx="589.2" cy="180.1" r="2.8"/><circle cx="590.8" cy="178.6" r="2.8"/><circle cx="592.9" cy="177.4" r="2.8"/><circle cx="594.7" cy="176.7" r="2.8"/><circle cx="597.0" cy="177.7" r="2.8"/><circle cx="599.1" cy="174.8" r="2.8"/><circle cx="600.7" cy="173.9" r="2.8"/><circle cx="602.6" cy="172.0" r="2.8"/><circle cx="604.2" cy="170.4" r="2.8"/><circle cx="606.9" cy="168.4" r="2.8"/><circle cx="608.2" cy="168.8" r="2.8"/><circle cx="610.4" cy="165.9" r="2.8"/><circle cx="611.6" cy="164.6" r="2.8"/><circle cx="613.6" cy="163.9" r="2.8"/><circle cx="615.9" cy="163.9" r="2.8"/><circle cx="617.6" cy="159.5" r="2.8"/><circle cx="618.6" cy="160.6" r="2.8"/><circle cx="621.3" cy="158.1" r="2.8"/><circle cx="622.6" cy="154.8" r="2.8"/><circle cx="624.0" cy="156.5" r="2.8"/><circle cx="626.1" cy="154.6" r="2.8"/><circle cx="627.9" cy="150.8" r="2.8"/><circle cx="628.7" cy="148.9" r="2.8"/><circle cx="630.7" cy="149.1" r="2.8"/><circle cx="632.8" cy="147.7" r="2.8"/><circle cx="634.1" cy="146.2" r="2.8"/><circle cx="635.5" cy="143.8" r="2.8"/><circle cx="636.7" cy="142.9" r="2.8"/><circle cx="638.5" cy="141.8" r="2.8"/><circle cx="640.5" cy="137.9" r="2.8"/><circle cx="641.5" cy="136.0" r="2.8"/><circle cx="643.6" cy="136.0" r="2.8"/><circle cx="644.7" cy="132.0" r="2.8"/><circle cx="646.7" cy="132.2" r="2.8"/><circle cx="648.1" cy="129.3" r="2.8"/><circle cx="649.9" cy="126.8" r="2.8"/><circle cx="651.2" cy="126.7" r="2.8"/><circle cx="653.4" cy="125.7" r="2.8"/><circle cx="654.9" cy="123.4" r="2.8"/><circle cx="655.8" cy="120.8" r="2.8"/><circle cx="657.6" cy="132.7" r="2.8"/><circle cx="658.8" cy="130.3" r="2.8"/><circle cx="661.1" cy="129.5" r="2.8"/><circle cx="663.1" cy="127.4" r="2.8"/><circle cx="665.0" cy="126.6" r="2.8"/><circle cx="666.1" cy="123.9" r="2.8"/><circle cx="667.8" cy="122.7" r="2.8"/><circle cx="669.9" cy="121.2" r="2.8"/><circle cx="671.6" cy="120.7" r="2.8"/><circle cx="672.9" cy="118.8" r="2.8"/><circle cx="675.9" cy="118.7" r="2.8"/><circle cx="678.2" cy="118.3" r="2.8"/><circle cx="679.9" cy="119.5" r="2.8"/><circle cx="682.4" cy="120.3" r="2.8"/><circle cx="685.0" cy="119.4" r="2.8"/><circle cx="687.2" cy="119.7" r="2.8"/><circle cx="689.3" cy="121.7" r="2.8"/><circle cx="690.3" cy="122.5" r="2.8"/><circle cx="692.0" cy="124.6" r="2.8"/><circle cx="692.8" cy="125.9" r="2.8"/><circle cx="694.2" cy="128.9" r="2.8"/></g>
<g fill="#008000"><circle cx="568.3" cy="200.0" r="2.6"/><circle cx="570.7" cy="203.3" r="2.6"/><circle cx="571.6" cy="203.5" r="2.6"/><circle cx="573.0" cy="197.5" r="2.6"/><circle cx="572.9" cy="201.6" r="2.6"/><circle cx="574.8" cy="193.6" r="2.6"/><circle cx="575.8" cy="195.7" r="2.6"/><circle cx="576.4" cy="194.6" r="2.6"/><circle cx="577.2" cy="191.2" r="2.6"/><circle cx="578.5" cy="193.3" r="2.6"/><circle cx="580.6" cy="190.7" r="2.6"/><circle cx="581.7" cy="190.6" r="2.6"/><circle cx="573.9" cy="193.7" r="2.6"/><circle cx="577.0" cy="189.9" r="2.6"/><circle cx="578.9" cy="188.3" r="2.6"/><circle cx="581.9" cy="188.9" r="2.6"/><circle cx="584.3" cy="184.2" r="2.6"/><circle cx="587.7" cy="180.7" r="2.6"/><circle cx="589.9" cy="183.0" r="2.6"/><circle cx="592.9" cy="177.2" r="2.6"/><circle cx="594.8" cy="175.6" r="2.6"/><circle cx="598.4" cy="174.9" r="2.6"/><circle cx="600.9" cy="176.4" r="2.6"/><circle cx="603.2" cy="171.4" r="2.6"/><circle cx="606.4" cy="171.2" r="2.6"/><circle cx="608.3" cy="169.8" r="2.6"/><circle cx="610.8" cy="165.5" r="2.6"/><circle cx="613.0" cy="166.0" r="2.6"/><circle cx="616.5" cy="163.4" r="2.6"/><circle cx="619.0" cy="158.2" r="2.6"/><circle cx="620.8" cy="158.4" r="2.6"/><circle cx="623.8" cy="158.6" r="2.6"/><circle cx="625.5" cy="152.7" r="2.6"/><circle cx="627.8" cy="151.7" r="2.6"/><circle cx="630.6" cy="147.9" r="2.6"/><circle cx="632.7" cy="148.5" r="2.6"/><circle cx="635.0" cy="146.4" r="2.6"/><circle cx="637.1" cy="141.8" r="2.6"/><circle cx="639.0" cy="139.6" r="2.6"/><circle cx="641.6" cy="135.8" r="2.6"/><circle cx="643.3" cy="137.0" r="2.6"/><circle cx="645.5" cy="131.1" r="2.6"/><circle cx="647.5" cy="131.3" r="2.6"/><circle cx="650.0" cy="131.2" r="2.6"/><circle cx="652.7" cy="128.8" r="2.6"/><circle cx="654.3" cy="121.8" r="2.6"/><circle cx="656.2" cy="121.6" r="2.6"/><circle cx="659.0" cy="118.9" r="2.6"/><circle cx="660.7" cy="116.4" r="2.6"/><circle cx="663.2" cy="115.4" r="2.6"/><circle cx="665.5" cy="113.9" r="2.6"/><circle cx="667.6" cy="107.8" r="2.6"/><circle cx="669.9" cy="106.3" r="2.6"/><circle cx="671.8" cy="104.3" r="2.6"/><circle cx="674.1" cy="101.0" r="2.6"/><circle cx="675.7" cy="98.8" r="2.6"/><circle cx="677.7" cy="99.7" r="2.6"/><circle cx="680.2" cy="94.4" r="2.6"/><circle cx="682.2" cy="95.5" r="2.6"/><circle cx="688.0" cy="98.1" r="2.6"/><circle cx="689.7" cy="96.4" r="2.6"/><circle cx="691.2" cy="93.6" r="2.6"/><circle cx="691.9" cy="92.3" r="2.6"/><circle cx="695.0" cy="91.3" r="2.6"/><circle cx="696.7" cy="89.5" r="2.6"/><circle cx="698.7" cy="91.5" r="2.6"/><circle cx="701.0" cy="94.0" r="2.6"/><circle cx="703.8" cy="86.6" r="2.6"/><circle cx="705.1" cy="84.7" r="2.6"/><circle cx="706.3" cy="83.2" r="2.6"/><circle cx="706.7" cy="85.4" r="2.6"/><circle cx="708.6" cy="86.4" r="2.6"/><circle cx="709.2" cy="88.7" r="2.6"/><circle cx="710.9" cy="87.9" r="2.6"/><circle cx="713.0" cy="87.2" r="2.6"/><circle cx="715.3" cy="88.2" r="2.6"/><circle cx="718.0" cy="88.2" r="2.6"/><circle cx="718.8" cy="90.6" r="2.6"/><circle cx="721.2" cy="92.6" r="2.6"/><circle cx="722.4" cy="94.2" r="2.6"/><circle cx="724.6" cy="96.3" r="2.6"/><circle cx="724.8" cy="97.9" r="2.6"/><circle cx="726.4" cy="100.5" r="2.6"/></g>
<g fill="#ff8000"><circle cx="582.8" cy="195.1" r="2.7"/><circle cx="584.3" cy="190.3" r="2.7"/><circle cx="584.6" cy="195.0" r="2.7"/><circle cx="586.1" cy="190.6" r="2.7"/><circle cx="587.0" cy="195.9" r="2.7"/><circle cx="588.1" cy="191.7" r="2.7"/><circle cx="589.2" cy="189.6" r="2.7"/><circle cx="591.1" cy="194.1" r="2.7"/><circle cx="591.4" cy="186.2" r="2.7"/><circle cx="593.1" cy="185.6" r="2.7"/><circle cx="593.0" cy="191.2" r="2.7"/><circle cx="594.7" cy="189.7" r="2.7"/><circle cx="595.8" cy="189.6" r="2.7"/><circle cx="596.9" cy="182.4" r="2.7"/><circle cx="591.5" cy="182.7" r="2.7"/><circle cx="594.2" cy="182.5" r="2.7"/><circle cx="595.6" cy="180.3" r="2.7"/><circle cx="597.9" cy="178.6" r="2.7"/><circle cx="599.7" cy="176.6" r="2.7"/><circle cx="602.1" cy="177.3" r="2.7"/><circle cx="603.7" cy="174.6" r="2.7"/><circle cx="606.3" cy="174.6" r="2.7"/><circle cx="607.5" cy="170.5" r="2.7"/><circle cx="610.2" cy="171.7" r="2.7"/><circle cx="611.6" cy="167.3" r="2.7"/><circle cx="613.9" cy="166.8" r="2.7"/><circle cx="615.8" cy="166.1" r="2.7"/><circle cx="617.6" cy="163.2" r="2.7"/><circle cx="619.4" cy="161.9" r="2.7"/><circle cx="621.0" cy="162.2" r="2.7"/><circle cx="623.1" cy="158.3" r="2.7"/><circle cx="624.2" cy="157.4" r="2.7"/><circle cx="626.0" cy="151.2" r="2.7"/><circle cx="629.2" cy="146.6" r="2.7"/><circle cx="633.3" cy="148.3" r="2.7"/><circle cx="636.2" cy="142.0" r="2.7"/><circle cx="640.3" cy="134.2" r="2.7"/><circle cx="643.9" cy="131.2" r="2.7"/><circle cx="647.1" cy="131.0" r="2.7"/><circle cx="650.6" cy="125.3" r="2.7"/><circle cx="653.7" cy="123.9" r="2.7"/><circle cx="657.1" cy="120.8" r="2.7"/><circle cx="660.5" cy="115.3" r="2.7"/><circle cx="663.4" cy="113.1" r="2.7"/><circle cx="667.2" cy="106.3" r="2.7"/><circle cx="670.9" cy="106.9" r="2.7"/><circle cx="673.9" cy="98.4" r="2.7"/><circle cx="677.2" cy="94.0" r="2.7"/><circle cx="680.2" cy="92.8" r="2.7"/></g>
<polyline fill="none" stroke="#ff8000" stroke-width="0.8" points="683.2,99.4 689.2,85.4 694.6,80.0 700.0,74.6 705.4,67.1 710.2,63.3 715.1,60.6 719.9,54.1"/>
<g fill="#ff8000"><circle cx="683.2" cy="99.4" r="2.5"/><circle cx="689.2" cy="85.4" r="2.5"/><circle cx="694.6" cy="80.0" r="2.5"/><circle cx="700.0" cy="74.6" r="2.5"/><circle cx="705.4" cy="67.1" r="2.5"/><circle cx="710.2" cy="63.3" r="2.5"/><circle cx="715.1" cy="60.6" r="2.5"/><circle cx="719.9" cy="54.1" r="2.5"/><circle cx="719.4" cy="54.0" r="2.9"/><circle cx="721.3" cy="52.3" r="2.9"/><circle cx="722.9" cy="51.1" r="2.9"/><circle cx="724.5" cy="50.7" r="2.9"/><circle cx="726.1" cy="49.0" r="2.9"/><circle cx="728.0" cy="48.6" r="2.9"/><circle cx="729.8" cy="46.8" r="2.9"/><circle cx="731.0" cy="46.4" r="2.9"/><circle cx="732.1" cy="44.8" r="2.9"/><circle cx="733.3" cy="43.1" r="2.9"/><circle cx="735.6" cy="41.1" r="2.9"/><circle cx="737.9" cy="41.5" r="2.9"/><circle cx="739.6" cy="43.8" r="2.9"/><circle cx="739.9" cy="44.8" r="2.9"/><circle cx="741.8" cy="46.2" r="2.9"/><circle cx="743.1" cy="47.9" r="2.9"/><circle cx="744.6" cy="46.2" r="2.9"/><circle cx="745.8" cy="45.5" r="2.9"/><circle cx="747.0" cy="46.3" r="2.9"/><circle cx="749.0" cy="48.0" r="2.9"/><circle cx="749.5" cy="50.2" r="2.9"/><circle cx="750.8" cy="53.5" r="2.9"/><circle cx="752.5" cy="55.3" r="2.9"/><circle cx="752.9" cy="56.9" r="2.9"/><circle cx="753.9" cy="58.4" r="2.9"/><circle cx="755.7" cy="60.4" r="2.9"/><circle cx="757.0" cy="62.9" r="2.9"/><circle cx="757.2" cy="65.1" r="2.9"/><circle cx="757.2" cy="67.0" r="2.9"/><circle cx="758.2" cy="68.2" r="2.9"/></g>
<path d="M468.9,256.0 C469.1,255.0 469.6,251.9 470.2,250.0 C470.8,248.1 471.5,246.3 472.3,244.5 C473.1,242.7 474.0,240.8 475.0,239.0 C476.0,237.2 477.1,235.3 478.2,233.8 C479.3,232.3 480.3,231.2 481.5,230.0 C482.7,228.8 484.1,227.7 485.5,226.8 C486.9,225.9 488.2,225.2 490.0,224.5 C491.8,223.8 493.7,223.2 496.0,222.4 C498.3,221.6 501.3,220.6 504.0,219.8 C506.7,219.0 508.0,218.8 512.0,217.4 C516.0,216.0 523.3,213.3 528.0,211.6 C532.7,209.9 535.3,208.8 540.0,207.0 C544.7,205.2 551.0,203.1 556.0,200.8 C561.0,198.5 564.3,196.7 570.0,193.2 C575.7,189.7 584.6,183.4 590.2,179.7 C595.8,176.0 598.7,174.5 603.7,170.9 C608.7,167.3 614.8,162.7 620.0,158.1 C625.2,153.5 630.2,148.1 635.0,143.2 C639.8,138.3 642.3,135.7 648.6,128.9 C654.9,122.1 666.6,109.3 672.9,102.2 C679.2,95.1 684.2,89.1 686.5,86.5" fill="none" stroke="#000" stroke-width="2.6"/>
<g stroke="#000" stroke-width="2.5"><line x1="694" y1="73" x2="700.5" y2="61.7"/><line x1="706" y1="48.2" x2="711.3" y2="36.9"/></g>
<text x="475" y="214.5" font-size="19.5" fill="#20d8e0">1T</text>
<text x="479" y="260.6" font-size="20.5" fill="#000">0.1T</text>
<text x="634" y="187.1" font-size="19.5" fill="#000080">5T</text>
<text x="749" y="42.7" font-size="18.5" fill="#ff8000">9T</text>
<g stroke="#0000ff" stroke-width="4.2" fill="#0000ff">
<line x1="834" y1="189" x2="753" y2="164.6"/>
<polygon stroke="none" points="742.8,161.2 756.8,158.6 752.3,171.4"/>
<line x1="875.2" y1="226" x2="875.2" y2="262.5"/>
<polygon stroke="none" points="875.2,274.2 868.8,261.4 881.6,261.4"/>
</g>
</svg></body></html>
